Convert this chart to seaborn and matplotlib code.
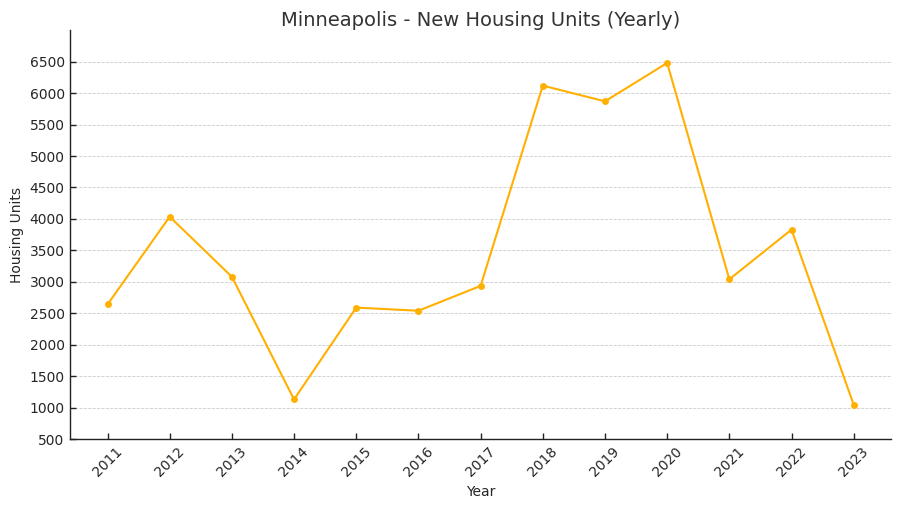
import matplotlib
matplotlib.use("Agg")
import matplotlib.pyplot as plt
import seaborn as sns
import pandas as pd

years = [2011, 2012, 2013, 2014, 2015, 2016, 2017, 2018, 2019, 2020, 2021, 2022, 2023]
units = [2640, 4035, 3080, 1130, 2590, 2540, 2935, 6120, 5870, 6480, 3040, 3830, 1045]
yticks = list(range(500, 7000, 500))

df = pd.DataFrame({"Year": years, "Housing Units": units})

sns.set_style("ticks")
plt.rcParams["font.family"] = ["DejaVu Sans"]
text_color = "#262626"

fig = plt.figure(figsize=(9, 5.09), dpi=100)
ax = fig.add_axes([0.078, 0.1375, 0.912, 0.803])

sns.lineplot(data=df, x="Year", y="Housing Units", ax=ax, color="#FFB000",
             marker="o", markersize=5, markeredgewidth=0, linewidth=1.5)

ax.set_xticks(years)
ax.set_xticklabels([str(y) for y in years], rotation=45, fontsize=10, color=text_color)
ax.set_yticks(yticks)
ax.set_yticklabels([str(v) for v in yticks], fontsize=10, color=text_color)
ax.set_ylim(500, 7000)
ax.set_xlim(2011 - 0.6, 2023 + 0.6)

ax.set_title("Minneapolis - New Housing Units (Yearly)", fontsize=14, color="#333333", pad=3)
ax.set_xlabel("Year", fontsize=10, color=text_color)
ax.set_ylabel("Housing Units", fontsize=10, color=text_color)

ax.yaxis.grid(True, linestyle="--", linewidth=0.6, color="#cccccc")
ax.xaxis.grid(False)
ax.set_axisbelow(True)
sns.despine(ax=ax)
for s in ["left", "bottom"]:
    ax.spines[s].set_color("#222222")
    ax.spines[s].set_linewidth(1.0)
ax.tick_params(axis="both", direction="in", length=4, width=1, color="#222222", pad=4)

fig.savefig("out.png", dpi=100)
